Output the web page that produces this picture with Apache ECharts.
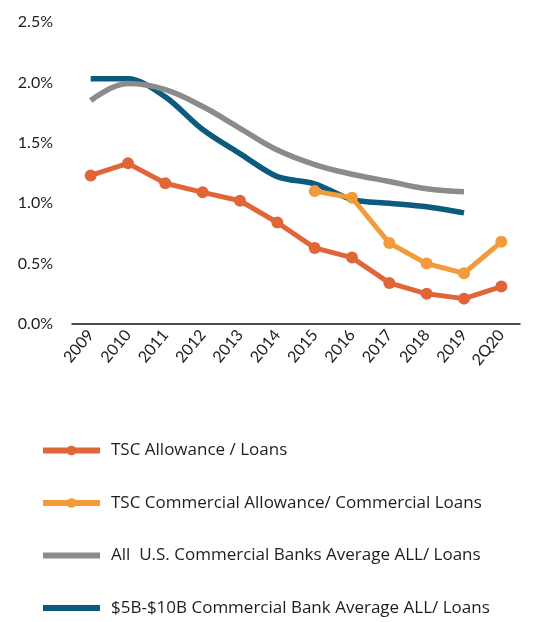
<!DOCTYPE html>
<html>
<head>
<meta charset="utf-8">
<style>
  html, body { margin: 0; padding: 0; background: #ffffff; }
  #chart { width: 548px; height: 622px; }
</style>
<script src="https://cdn.jsdelivr.net/npm/echarts@6/dist/echarts.min.js"></script>
</head>
<body>
<div id="chart"></div>
<script>
// Allowance for loan losses as a share of loans, in percent
const categories = ['2009', '2010', '2011', '2012', '2013', '2014', '2015', '2016', '2017', '2018', '2019', '2Q20'];
const tscAllowance = [1.23, 1.33, 1.165, 1.09, 1.02, 0.84, 0.63, 0.55, 0.34, 0.25, 0.21, 0.31];
const tscCommercial = [null, null, null, null, null, null, 1.10, 1.045, 0.67, 0.50, 0.42, 0.68];
const allBanks = [1.85, 1.99, 1.94, 1.80, 1.62, 1.44, 1.32, 1.24, 1.18, 1.12, 1.095, null];
const midBanks = [2.03, 2.03, 1.88, 1.61, 1.41, 1.22, 1.16, 1.03, 1.00, 0.97, 0.92, null];
const yTicks = [0, 0.5, 1.0, 1.5, 2.0, 2.5];

const seriesNames = [
  'TSC Allowance / Loans',
  'TSC Commercial Allowance/ Commercial Loans',
  'All  U.S. Commercial Banks Average ALL/ Loans',
  '$5B-$10B Commercial Bank Average ALL/ Loans'
];

const COLORS = {
  tsc: '#E0663A',
  tscCommercial: '#F39B3A',
  allBanks: '#8B8B8D',
  midBanks: '#0C5A7D'
};

const AXIS_FONT = 'Lato, "Open Sans", sans-serif';
const LEGEND_FONT = '"Open Sans", Lato, sans-serif';

const chart = echarts.init(document.getElementById('chart'), null, { renderer: 'canvas' });

chart.setOption({
  animation: false,
  backgroundColor: '#ffffff',
  grid: { left: 72, right: 28, top: 22, bottom: 298, containLabel: false },
  legend: {
    orient: 'vertical',
    left: 40,
    top: 442,
    height: 240,
    padding: 0,
    itemWidth: 57,
    itemHeight: 12,
    itemGap: 35.5,
    textStyle: { fontFamily: LEGEND_FONT, fontSize: 17, color: '#1e1e1e', padding: [0, 0, 0, 6] },
    lineStyle: { width: 6 },
    data: [
      { name: seriesNames[0] },
      { name: seriesNames[1] },
      { name: seriesNames[2], itemStyle: { opacity: 0 } },
      { name: seriesNames[3], itemStyle: { opacity: 0 } }
    ]
  },
  xAxis: {
    type: 'category',
    data: categories,
    boundaryGap: true,
    axisLine: { show: true, lineStyle: { color: '#111111', width: 1.5 } },
    axisTick: { show: false },
    axisLabel: {
      interval: 0,
      rotate: 50,
      margin: 8,
      fontFamily: AXIS_FONT,
      fontSize: 16,
      color: '#1e1e1e'
    },
    splitLine: { show: false }
  },
  yAxis: {
    type: 'value',
    min: 0,
    max: 2.5,
    interval: 0.5,
    axisLine: { show: false },
    axisTick: { show: false },
    splitLine: { show: false },
    axisLabel: {
      margin: 19,
      fontFamily: AXIS_FONT,
      fontSize: 16,
      color: '#1e1e1e',
      formatter: v => yTicks.includes(+v.toFixed(1)) ? v.toFixed(1) + '%' : ''
    }
  },
  series: [
    {
      name: seriesNames[2],
      type: 'line',
      data: allBanks,
      smooth: 0.4,
      symbol: 'none',
      z: 2,
      lineStyle: { color: COLORS.allBanks, width: 5.5 },
      itemStyle: { color: COLORS.allBanks }
    },
    {
      name: seriesNames[3],
      type: 'line',
      data: midBanks,
      smooth: 0.3,
      symbol: 'none',
      z: 1,
      lineStyle: { color: COLORS.midBanks, width: 5.5 },
      itemStyle: { color: COLORS.midBanks }
    },
    {
      name: seriesNames[1],
      type: 'line',
      data: tscCommercial,
      symbol: 'circle',
      symbolSize: 12,
      z: 3,
      lineStyle: { color: COLORS.tscCommercial, width: 5 },
      itemStyle: { color: COLORS.tscCommercial }
    },
    {
      name: seriesNames[0],
      type: 'line',
      data: tscAllowance,
      symbol: 'circle',
      symbolSize: 12,
      z: 4,
      lineStyle: { color: COLORS.tsc, width: 5 },
      itemStyle: { color: COLORS.tsc }
    }
  ]
});
</script>
</body>
</html>
